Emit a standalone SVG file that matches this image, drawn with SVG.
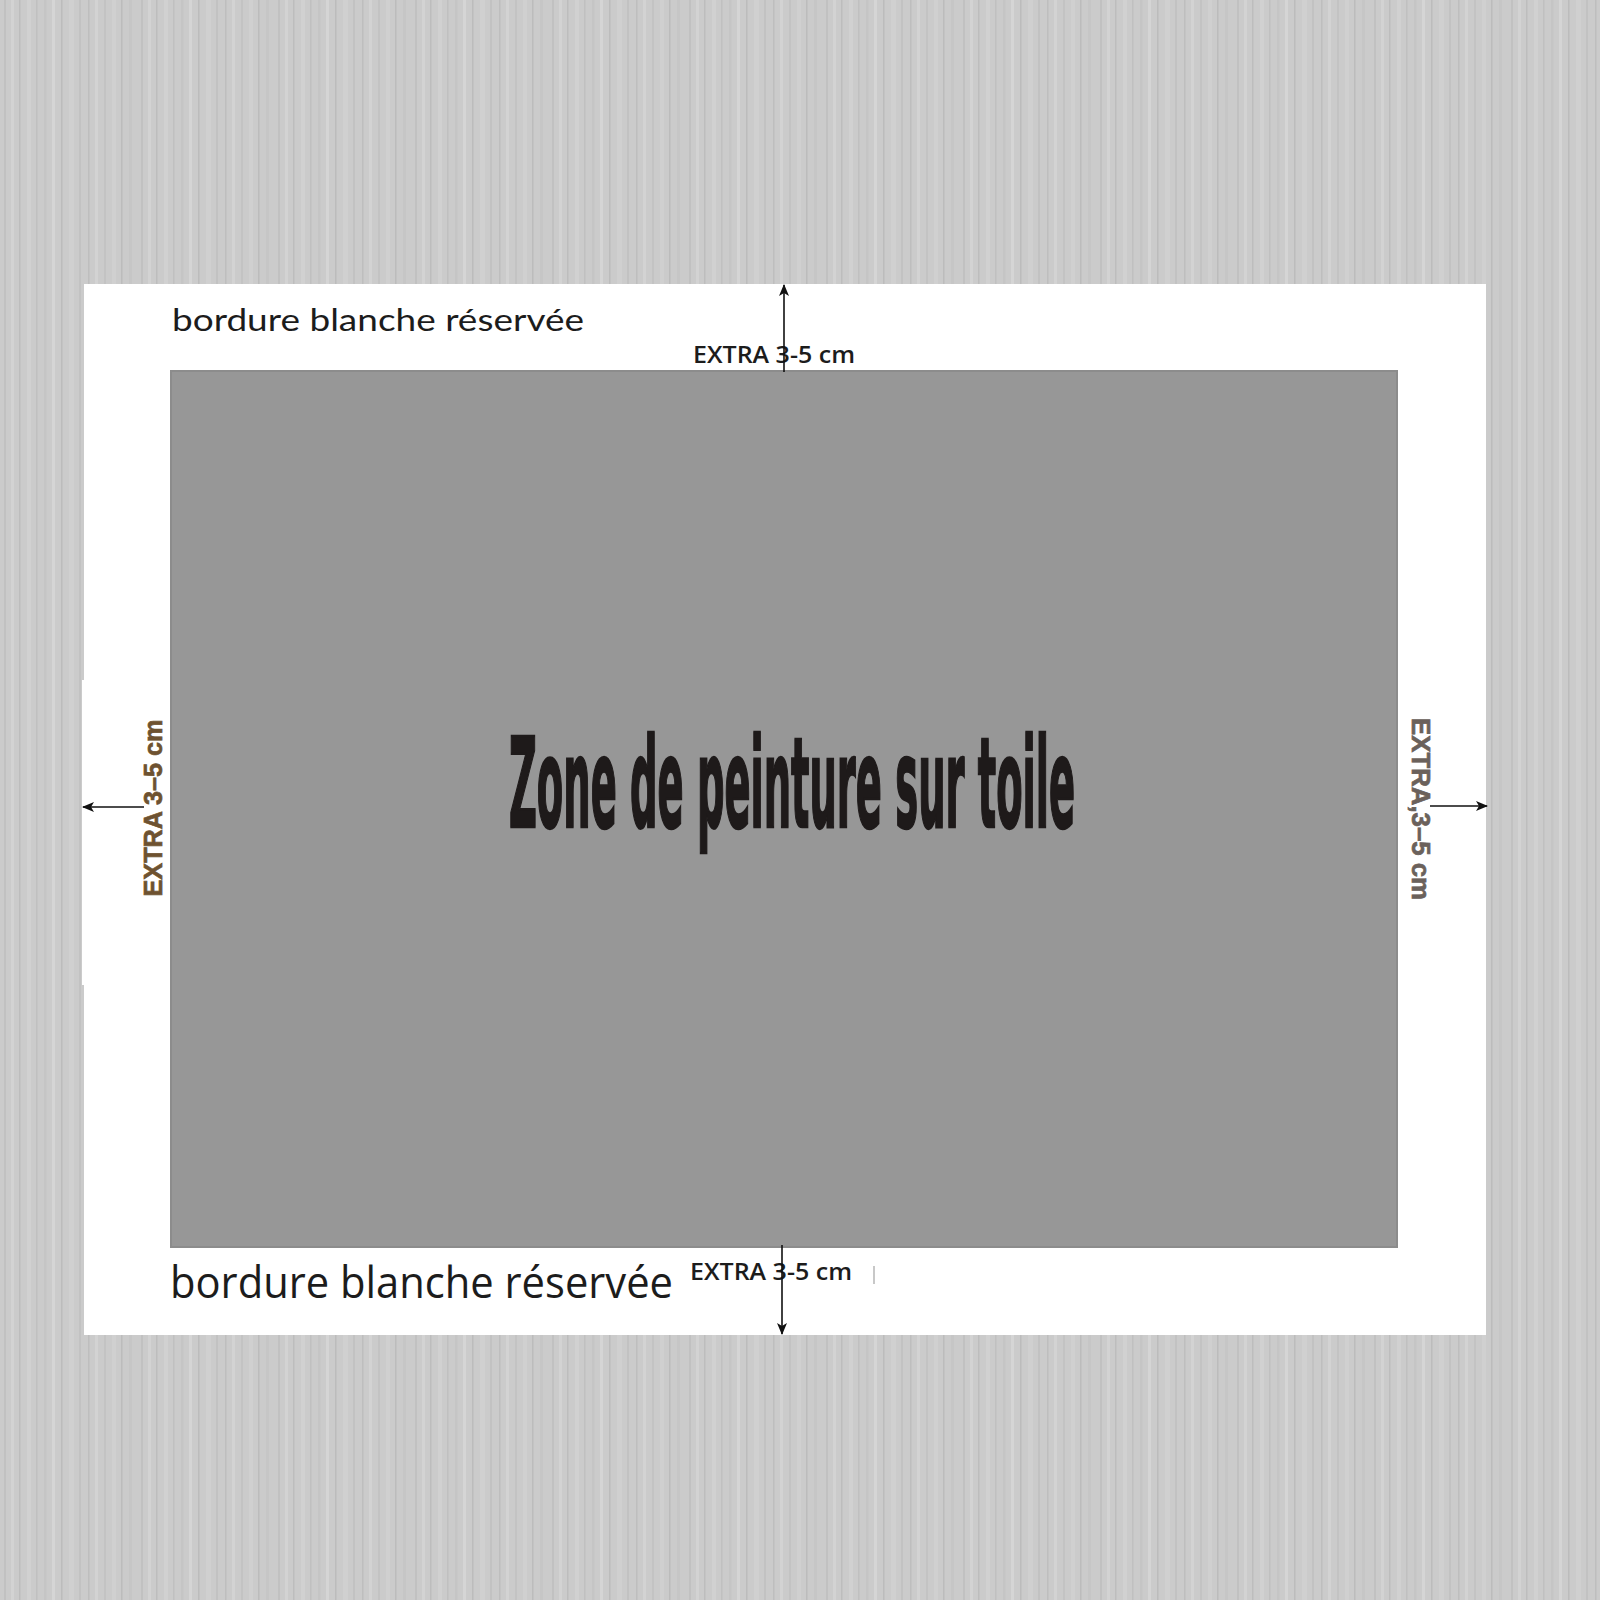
<svg xmlns="http://www.w3.org/2000/svg" width="1600" height="1600" viewBox="0 0 1600 1600">
  <defs>
    <pattern id="wood" x="0" y="0" width="137" height="1600" patternUnits="userSpaceOnUse">
      <rect x="0" y="0" width="137" height="1600" fill="#cbcbcb"/>
      <rect x="4" y="0" width="2" height="1600" fill="#c1c1c1"/>
      <rect x="11" y="0" width="3" height="1600" fill="#d3d3d3"/>
      <rect x="19" y="0" width="1.5" height="1600" fill="#bdbdbd"/>
      <rect x="27" y="0" width="4" height="1600" fill="#d1d1d1"/>
      <rect x="36" y="0" width="1.5" height="1600" fill="#c0c0c0"/>
      <rect x="44" y="0" width="2.5" height="1600" fill="#c5c5c5"/>
      <rect x="52" y="0" width="3" height="1600" fill="#d5d5d5"/>
      <rect x="61" y="0" width="1.5" height="1600" fill="#bcbcbc"/>
      <rect x="69" y="0" width="5" height="1600" fill="#d0d0d0"/>
      <rect x="79" y="0" width="2" height="1600" fill="#c2c2c2"/>
      <rect x="88" y="0" width="1.5" height="1600" fill="#bebebe"/>
      <rect x="95" y="0" width="3" height="1600" fill="#d3d3d3"/>
      <rect x="104" y="0" width="2" height="1600" fill="#c3c3c3"/>
      <rect x="112" y="0" width="4" height="1600" fill="#d0d0d0"/>
      <rect x="121" y="0" width="1.5" height="1600" fill="#bcbcbc"/>
      <rect x="129" y="0" width="3" height="1600" fill="#c6c6c6"/>
    </pattern>
    <marker id="arrow" viewBox="0 0 12 10" refX="11" refY="5" markerWidth="12" markerHeight="10" markerUnits="userSpaceOnUse" orient="auto">
      <path d="M0,0 L12,5 L0,10 L3,5 Z" fill="#111"/>
    </marker>
    <style>
      .conn { stroke:#111; stroke-width:1.6; fill:none; marker-end:url(#arrow); }
      .extra { font-family:"Open Sans","Liberation Sans",sans-serif; font-weight:600; font-size:23px; fill:#1c1c1c; }
      .side { font-family:"Liberation Sans","DejaVu Sans",sans-serif; font-weight:bold; font-size:26px; stroke-width:0.7; }
    </style>
  </defs>

  <g id="background">
    <rect x="0" y="0" width="1600" height="1600" fill="url(#wood)"/>
  </g>

  <g id="sheet">
    <rect x="84" y="284" width="1402" height="1051" fill="#ffffff"/>
    <rect x="82" y="680" width="4" height="305" fill="#ffffff"/>
  </g>

  <g id="canvas-zone">
    <rect x="171" y="371" width="1226" height="876" fill="#979797" stroke="#8c8c8c" stroke-width="2"/>
    <text x="792" y="827" text-anchor="middle" font-family="'DejaVu Sans Condensed','DejaVu Sans',sans-serif" font-weight="bold" font-size="124" fill="#1e1a1a" stroke="#1e1a1a" stroke-width="2.5" textLength="566" lengthAdjust="spacingAndGlyphs">Zone de peinture sur toile</text>
  </g>

  <g id="label-top">
    <text x="172" y="331" font-family="Lato,'Open Sans',sans-serif" font-size="31" fill="#1c1c1c" textLength="412" lengthAdjust="spacingAndGlyphs">bordure blanche réservée</text>
    <text class="extra" x="693" y="363" textLength="162" lengthAdjust="spacingAndGlyphs">EXTRA 3-5 cm</text>
  </g>

  <g id="label-bottom">
    <text x="170" y="1298" font-family="'Open Sans','Liberation Sans',sans-serif" font-size="43" fill="#1c1c1c" textLength="503" lengthAdjust="spacingAndGlyphs">bordure blanche réservée</text>
    <text class="extra" x="690" y="1280" textLength="162" lengthAdjust="spacingAndGlyphs">EXTRA 3-5 cm</text>
    <line x1="874" y1="1266" x2="874" y2="1284" stroke="#c8c8c8" stroke-width="2"/>
  </g>

  <g id="label-left">
    <text class="side" transform="translate(162,808) rotate(-90)" text-anchor="middle" fill="#6e5230" stroke="#6e5230" textLength="177" lengthAdjust="spacingAndGlyphs">EXTRA 3–5 cm</text>
  </g>

  <g id="label-right">
    <text class="side" transform="translate(1412,809) rotate(90)" text-anchor="middle" fill="#6b615b" stroke="#6b615b" textLength="182" lengthAdjust="spacingAndGlyphs">EXTRA,3–5 cm</text>
  </g>

  <g id="connectors">
    <line class="conn" x1="784" y1="372" x2="784" y2="285"/>
    <line class="conn" x1="782" y1="1245" x2="782" y2="1334"/>
    <line class="conn" x1="144" y1="807" x2="83" y2="807"/>
    <line class="conn" x1="1430" y1="806" x2="1487" y2="806"/>
  </g>
</svg>
